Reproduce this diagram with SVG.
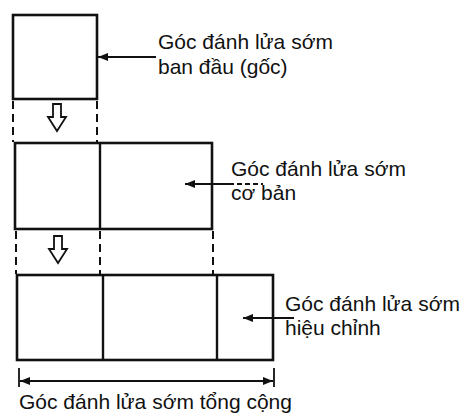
<svg xmlns="http://www.w3.org/2000/svg" width="462" height="414" viewBox="0 0 462 414">
<style>
.box{fill:none;stroke:#111;stroke-width:2.6}
.div{stroke:#111;stroke-width:2.4}
.dash{stroke:#111;stroke-width:2;stroke-dasharray:8 5}
.ln{stroke:#111;stroke-width:1.8;fill:none}
.hollow{fill:#fff;stroke:#111;stroke-width:1.8;stroke-linejoin:miter}
text{font-family:"Liberation Sans",Arial,sans-serif;font-size:21px;fill:#111}
</style>
<defs>
<marker id="ah" viewBox="0 0 10 8" refX="10" refY="4" markerWidth="10" markerHeight="8" markerUnits="userSpaceOnUse" orient="auto-start-reverse">
<path d="M0,0 L10,4 L0,8 Z" fill="#111"/>
</marker>
</defs>
<rect width="462" height="414" fill="#fff"/>
<g id="box1">
<rect class="box" x="13" y="15" width="84" height="84"/>
</g>
<g id="box2">
<rect class="box" x="15" y="143" width="197" height="86"/>
<line class="div" x1="100" y1="143" x2="100" y2="229"/>
</g>
<g id="box3">
<rect class="box" x="17" y="275" width="256" height="85"/>
<line class="div" x1="103" y1="275" x2="103" y2="360"/>
<line class="div" x1="217" y1="275" x2="217" y2="360"/>
</g>
<g id="label1">
<text x="158" y="49">Góc đánh lửa sớm</text>
<text x="158" y="74">ban đầu (gốc)</text>
</g>
<g id="label2">
<text x="231" y="176">Góc đánh lửa sớm</text>
<text x="231" y="200">cơ bản</text>
</g>
<g id="label3">
<text x="285" y="311">Góc đánh lửa sớm</text>
<text x="285" y="335">hiệu chỉnh</text>
</g>
<g id="label4">
<text x="19" y="409">Góc đánh lửa sớm tổng cộng</text>
</g>
<g id="connectors">
<line class="dash" x1="13" y1="101" x2="13" y2="142"/>
<line class="dash" x1="97" y1="101" x2="97" y2="142"/>
<line class="dash" x1="16" y1="231" x2="16" y2="274"/>
<line class="dash" x1="100" y1="231" x2="100" y2="274"/>
<line class="dash" x1="213" y1="231" x2="213" y2="274"/>
<path class="hollow" d="M53,104 H61 V117 H66 L57,131 L48,117 H53 Z"/>
<path class="hollow" d="M54,236 H62 V249 H67 L58,263 L49,249 H54 Z"/>
<line class="ln" x1="156" y1="57" x2="98" y2="57" marker-end="url(#ah)"/>
<line class="ln" x1="229" y1="184" x2="185" y2="184" marker-end="url(#ah)"/>
<line class="ln" x1="229" y1="184" x2="263" y2="184" stroke-dasharray="5 3"/>
<line class="ln" x1="294" y1="318" x2="243" y2="318" marker-end="url(#ah)"/>
<line class="ln" x1="19" y1="368" x2="19" y2="387"/>
<line class="ln" x1="274" y1="368" x2="274" y2="387"/>
<line class="ln" x1="20" y1="381" x2="273" y2="381" marker-start="url(#ah)" marker-end="url(#ah)"/>
</g>
</svg>
